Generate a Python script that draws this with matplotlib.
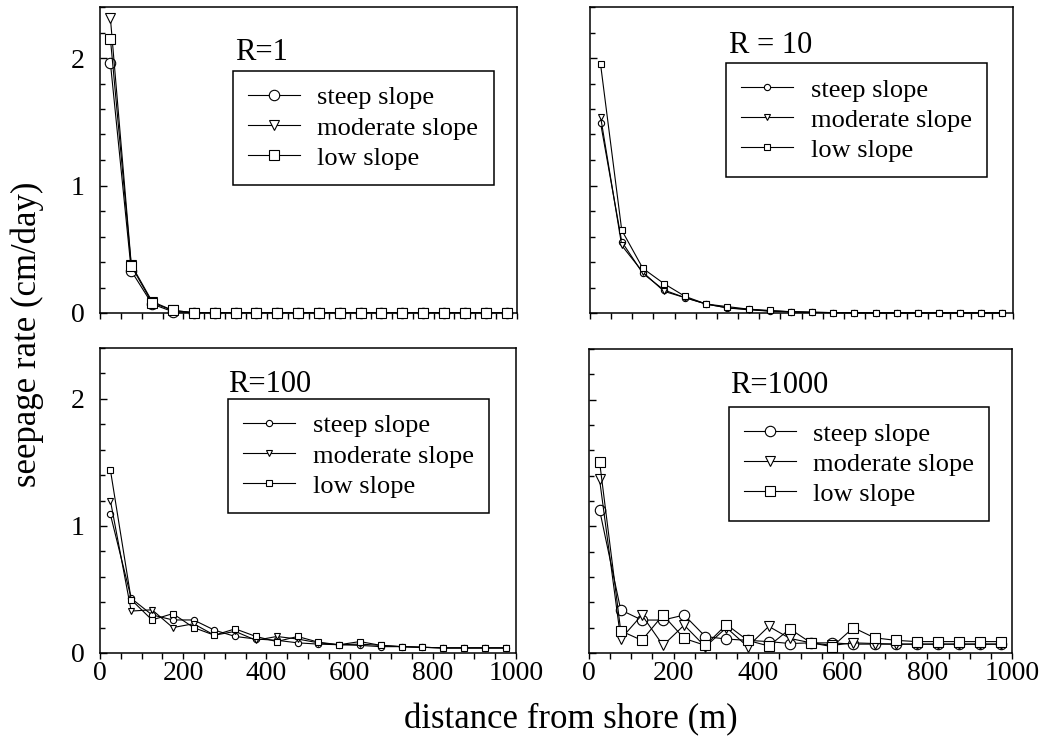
import matplotlib
matplotlib.use("Agg")
import matplotlib.pyplot as plt
from matplotlib.ticker import MultipleLocator

plt.rcParams['font.family'] = ['Liberation Serif', 'DejaVu Serif']

distance = [25, 75, 125, 175, 225, 275, 325, 375, 425, 475,
            525, 575, 625, 675, 725, 775, 825, 875, 925, 975]

r1_steep = [1.96, 0.33, 0.07, 0.01, 0.003, 0.003, 0.003, 0.003, 0.003, 0.003,
            0.003, 0.003, 0.003, 0.003, 0.003, 0.003, 0.003, 0.003, 0.003, 0.003]
r1_moderate = [2.31, 0.38, 0.09, 0.02, 0.003, 0.003, 0.003, 0.003, 0.003, 0.003,
               0.003, 0.003, 0.003, 0.003, 0.003, 0.003, 0.003, 0.003, 0.003, 0.003]
r1_low = [2.15, 0.37, 0.08, 0.02, 0.003, 0.003, 0.003, 0.003, 0.003, 0.003,
          0.003, 0.003, 0.003, 0.003, 0.003, 0.003, 0.003, 0.003, 0.003, 0.003]

r10_steep = [1.49, 0.56, 0.31, 0.18, 0.12, 0.07, 0.04, 0.03, 0.015, 0.01,
             0.005, 0.003, 0.002, 0.001, 0.001, 0.001, 0.001, 0.001, 0.001, 0.001]
r10_moderate = [1.54, 0.53, 0.32, 0.17, 0.12, 0.07, 0.04, 0.025, 0.015, 0.01,
                0.005, 0.003, 0.002, 0.001, 0.001, 0.001, 0.001, 0.001, 0.001, 0.001]
r10_low = [1.95, 0.65, 0.35, 0.23, 0.13, 0.07, 0.05, 0.03, 0.02, 0.01,
           0.006, 0.003, 0.002, 0.001, 0.001, 0.001, 0.001, 0.001, 0.001, 0.001]

r100_steep = [1.09, 0.43, 0.30, 0.26, 0.26, 0.18, 0.13, 0.11, 0.10, 0.08,
              0.07, 0.065, 0.06, 0.05, 0.05, 0.045, 0.04, 0.04, 0.04, 0.04]
r100_moderate = [1.20, 0.33, 0.34, 0.20, 0.23, 0.14, 0.17, 0.10, 0.13, 0.11,
                 0.08, 0.065, 0.07, 0.06, 0.05, 0.045, 0.04, 0.04, 0.04, 0.04]
r100_low = [1.44, 0.42, 0.26, 0.31, 0.20, 0.14, 0.19, 0.13, 0.09, 0.13,
            0.085, 0.065, 0.09, 0.06, 0.05, 0.045, 0.04, 0.04, 0.04, 0.04]

r1000_steep = [1.13, 0.34, 0.26, 0.26, 0.30, 0.13, 0.11, 0.10, 0.09, 0.075,
               0.08, 0.08, 0.07, 0.07, 0.07, 0.07, 0.07, 0.07, 0.07, 0.07]
r1000_moderate = [1.37, 0.11, 0.30, 0.06, 0.22, 0.05, 0.20, 0.05, 0.21, 0.115,
                  0.08, 0.06, 0.08, 0.075, 0.07, 0.07, 0.07, 0.07, 0.07, 0.07]
r1000_low = [1.51, 0.175, 0.10, 0.30, 0.115, 0.06, 0.225, 0.10, 0.055, 0.19,
             0.08, 0.05, 0.20, 0.12, 0.10, 0.09, 0.09, 0.09, 0.09, 0.09]

series_labels = ["steep slope", "moderate slope", "low slope"]
panel_titles = ["R=1", "R = 10", "R=100", "R=1000"]
x_ticks = [0, 200, 400, 600, 800, 1000]
y_ticks = [0, 1, 2]

panels = [
    (r1_steep, r1_moderate, r1_low),
    (r10_steep, r10_moderate, r10_low),
    (r100_steep, r100_moderate, r100_low),
    (r1000_steep, r1000_moderate, r1000_low),
]

W, H = 1051, 739
fig = plt.figure(figsize=(W / 100, H / 100), dpi=100)

# axes boxes in pixels: (left, top, right, bottom)
boxes = [(100, 7, 517, 313), (590, 7, 1013, 313),
         (100, 348, 516, 653), (589, 349, 1012, 653)]
title_pos = [(0.324, 0.827), (0.329, 0.85), (0.307, 0.856), (0.333, 0.855)]
legend_pos = [(0.319, 0.791), (0.322, 0.817), (0.308, 0.833), (0.331, 0.809)]
msizes = [7.5, 4.5, 4.5, 7.5]
markers = ['o', 'v', 's']

for i, (box, data) in enumerate(zip(boxes, panels)):
    l, t, r, b = box
    ax = fig.add_axes([l / W, 1 - b / H, (r - l) / W, (b - t) / H])
    for vals, mk, lab in zip(data, markers, series_labels):
        ax.plot(distance, vals, color='black', lw=0.8, marker=mk,
                ms=msizes[i], mfc='white', mec='black', mew=0.8,
                label=lab, clip_on=False, zorder=3)
    ax.set_xlim(0, 1000)
    ax.set_ylim(0, 2.4)
    ax.set_xticks(x_ticks)
    ax.set_yticks(y_ticks)
    ax.xaxis.set_minor_locator(MultipleLocator(50))
    ax.yaxis.set_minor_locator(MultipleLocator(0.2))
    ax.tick_params(axis='x', which='both', direction='out', length=4,
                   width=1, labelsize=20, pad=2)
    ax.tick_params(axis='y', which='major', direction='in', length=5,
                   width=1, labelsize=20, pad=11)
    ax.tick_params(axis='y', which='minor', direction='in', length=3.5, width=1)
    if i < 2:
        ax.tick_params(axis='x', labelbottom=False)
    if i % 2 == 1:
        ax.tick_params(axis='y', labelleft=False)
    for sp in ax.spines.values():
        sp.set_linewidth(1.1)
    ax.text(title_pos[i][0], title_pos[i][1], panel_titles[i],
            transform=ax.transAxes, fontsize=22, ha='left', va='baseline')
    leg = ax.legend(loc='upper left', bbox_to_anchor=legend_pos[i],
                    borderaxespad=0, fontsize=19, frameon=True,
                    fancybox=False, edgecolor='black', framealpha=1,
                    handlelength=1.95, handletextpad=0.68, borderpad=0.57,
                    labelspacing=0.25)
    leg.get_frame().set_linewidth(1.1)

fig.text(27 / W, 1 - 334 / H, "seepage rate (cm/day)", rotation=90,
         fontsize=25, ha='center', va='center')
fig.text(571 / W, 1 - 728 / H, "distance from shore (m)", fontsize=25,
         ha='center', va='baseline')

fig.savefig("out.png", dpi=100)
